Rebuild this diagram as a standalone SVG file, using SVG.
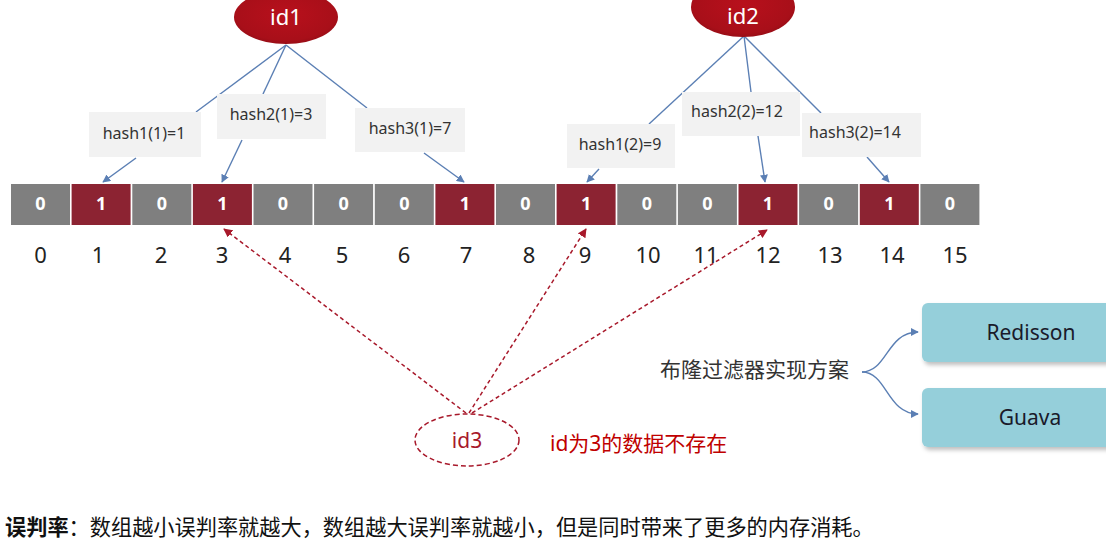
<svg xmlns="http://www.w3.org/2000/svg" width="1106" height="546" viewBox="0 0 1106 546">
<style>
.cell0{fill:#7f7f7f}
.cell1{fill:#8c2332}
.bit{font-family:"Noto Sans","Liberation Sans",sans-serif;font-size:18px;font-weight:bold;fill:#fff;text-anchor:middle}
.idx{font-family:"Noto Sans","Liberation Sans",sans-serif;font-size:22px;fill:#222;text-anchor:middle}
.lbox{fill:#f2f2f2}
.ltxt{font-family:"Noto Sans","Liberation Sans",sans-serif;font-size:16px;fill:#333;text-anchor:middle}
.idtxt{font-family:"Noto Sans","Liberation Sans",sans-serif;font-size:22px;fill:#fff;text-anchor:middle}
.blue{stroke:#5b7fb4;stroke-width:1.4;fill:none}
.reddash{stroke:#a8192b;stroke-width:1.5;fill:none;stroke-dasharray:4 3}
.cn{font-family:"Noto Sans","Noto Sans CJK SC",sans-serif}
.tbox{fill:#95cfda}
.ttxt{font-family:"Noto Sans","Liberation Sans",sans-serif;font-size:21px;fill:#1a1a2a;text-anchor:middle}
</style>
<defs>
<radialGradient id="redg" cx="50%" cy="45%" r="60%">
<stop offset="0%" stop-color="#b8101c"/>
<stop offset="80%" stop-color="#a80f19"/>
<stop offset="100%" stop-color="#8e0c14"/>
</radialGradient>
<marker id="ab" viewBox="0 0 10 10" refX="9" refY="5" markerWidth="8" markerHeight="8" orient="auto" markerUnits="userSpaceOnUse">
<path d="M0,0 L10,5 L0,10 z" fill="#5b7fb4"/>
</marker>
<marker id="ar" viewBox="0 0 10 10" refX="9" refY="5" markerWidth="9" markerHeight="9" orient="auto" markerUnits="userSpaceOnUse">
<path d="M0,0 L10,5 L0,10 z" fill="#a8192b"/>
</marker>
<filter id="sh" x="-10%" y="-10%" width="130%" height="140%">
<feDropShadow dx="2" dy="3" stdDeviation="2" flood-color="#000" flood-opacity="0.25"/>
</filter>
</defs>
<rect width="1106" height="546" fill="#fff"/>

<g id="connectors">
<path class="blue" d="M286,45 L196,112"/>
<path class="blue" d="M286,45 L263,94"/>
<path class="blue" d="M286,45 L367,108"/>
<path class="blue" d="M744,36 L649,124"/>
<path class="blue" d="M744,36 L751,92"/>
<path class="blue" d="M744,36 L821,113"/>
<path class="blue" d="M136,158 L103,182" marker-end="url(#ab)"/>
<path class="blue" d="M242,140 L222,182" marker-end="url(#ab)"/>
<path class="blue" d="M424,153 L464,182" marker-end="url(#ab)"/>
<path class="blue" d="M599,169 L587,182" marker-end="url(#ab)"/>
<path class="blue" d="M758,136 L765,182" marker-end="url(#ab)"/>
<path class="blue" d="M867,157 L889,182" marker-end="url(#ab)"/>
<path class="reddash" d="M466,413 L224,229" marker-end="url(#ar)"/>
<path class="reddash" d="M469,413 L586,229" marker-end="url(#ar)"/>
<path class="reddash" d="M472,413 L767,230" marker-end="url(#ar)"/>
<path class="blue" d="M862,372 C887,372 887,332 918,332" marker-end="url(#ab)"/>
<path class="blue" d="M862,372 C887,372 887,414 918,414" marker-end="url(#ab)"/>
</g>

<g id="id1">
<ellipse cx="286" cy="17" rx="52" ry="27" fill="url(#redg)"/>
<text class="idtxt" x="286" y="25">id1</text>
</g>
<g id="id2">
<ellipse cx="743" cy="7" rx="52" ry="30" fill="url(#redg)"/>
<text class="idtxt" x="743" y="24" font-size="21">id2</text>
</g>

<g id="hash1-1"><rect class="lbox" x="89" y="112" width="112" height="45"/><text class="ltxt" x="144" y="139">hash1(1)=1</text></g>
<g id="hash2-1"><rect class="lbox" x="217" y="94" width="109" height="45"/><text class="ltxt" x="271" y="120">hash2(1)=3</text></g>
<g id="hash3-1"><rect class="lbox" x="355" y="108" width="110" height="44"/><text class="ltxt" x="410" y="134">hash3(1)=7</text></g>
<g id="hash1-2"><rect class="lbox" x="567" y="124" width="108" height="44"/><text class="ltxt" x="620" y="150">hash1(2)=9</text></g>
<g id="hash2-2"><rect class="lbox" x="682" y="92" width="118" height="44"/><text class="ltxt" x="737" y="117">hash2(2)=12</text></g>
<g id="hash3-2"><rect class="lbox" x="802" y="113" width="119" height="44"/><text class="ltxt" x="855" y="138">hash3(2)=14</text></g>

<g id="bitarray">
<rect class="cell0" x="11" y="184" width="59" height="41"/><text class="bit" x="40.5" y="210">0</text>
<rect class="cell1" x="71.6" y="184" width="59" height="41"/><text class="bit" x="101.1" y="210">1</text>
<rect class="cell0" x="132.3" y="184" width="59" height="41"/><text class="bit" x="161.8" y="210">0</text>
<rect class="cell1" x="192.9" y="184" width="59" height="41"/><text class="bit" x="222.4" y="210">1</text>
<rect class="cell0" x="253.5" y="184" width="59" height="41"/><text class="bit" x="283" y="210">0</text>
<rect class="cell0" x="314.1" y="184" width="59" height="41"/><text class="bit" x="343.6" y="210">0</text>
<rect class="cell0" x="374.8" y="184" width="59" height="41"/><text class="bit" x="404.3" y="210">0</text>
<rect class="cell1" x="435.4" y="184" width="59" height="41"/><text class="bit" x="464.9" y="210">1</text>
<rect class="cell0" x="496" y="184" width="59" height="41"/><text class="bit" x="525.5" y="210">0</text>
<rect class="cell1" x="556.6" y="184" width="59" height="41"/><text class="bit" x="586.1" y="210">1</text>
<rect class="cell0" x="617.3" y="184" width="59" height="41"/><text class="bit" x="646.8" y="210">0</text>
<rect class="cell0" x="677.9" y="184" width="59" height="41"/><text class="bit" x="707.4" y="210">0</text>
<rect class="cell1" x="738.5" y="184" width="59" height="41"/><text class="bit" x="768" y="210">1</text>
<rect class="cell0" x="799.1" y="184" width="59" height="41"/><text class="bit" x="828.6" y="210">0</text>
<rect class="cell1" x="859.8" y="184" width="59" height="41"/><text class="bit" x="889.3" y="210">1</text>
<rect class="cell0" x="920.4" y="184" width="59" height="41"/><text class="bit" x="949.9" y="210">0</text>
</g>

<g id="indices">
<text class="idx" x="40.5" y="263">0</text>
<text class="idx" x="98" y="263">1</text>
<text class="idx" x="161" y="263">2</text>
<text class="idx" x="222" y="263">3</text>
<text class="idx" x="285" y="263">4</text>
<text class="idx" x="342" y="263">5</text>
<text class="idx" x="404" y="263">6</text>
<text class="idx" x="466" y="263">7</text>
<text class="idx" x="529" y="263">8</text>
<text class="idx" x="585" y="263">9</text>
<text class="idx" x="648" y="263">10</text>
<text class="idx" x="706" y="263">11</text>
<text class="idx" x="768" y="263">12</text>
<text class="idx" x="830" y="263">13</text>
<text class="idx" x="892" y="263">14</text>
<text class="idx" x="955" y="263">15</text>
</g>

<g id="id3">
<ellipse cx="467" cy="440" rx="52" ry="26" fill="none" stroke="#a8192b" stroke-width="1.5" stroke-dasharray="5 3"/>
<text x="467" y="448" font-family="Noto Sans, sans-serif" font-size="21" fill="#a8192b" text-anchor="middle">id3</text>
</g>
<g id="note-id3">
<text class="cn" x="550" y="451" font-size="21" fill="#c00000">id为3的数据不存在</text>
</g>

<g id="scheme">
<text class="cn" x="660" y="377" font-size="21" fill="#333">布隆过滤器实现方案</text>
</g>
<g id="redisson">
<rect class="tbox" x="922" y="303" width="200" height="59" rx="6" filter="url(#sh)"/>
<text class="ttxt" x="1031" y="340">Redisson</text>
</g>
<g id="guava">
<rect class="tbox" x="922" y="388" width="200" height="59" rx="6" filter="url(#sh)"/>
<text class="ttxt" x="1030" y="425">Guava</text>
</g>

<g id="footer">
<text class="cn" x="5" y="535" font-size="21.2" fill="#111"><tspan font-weight="bold">误判率</tspan>：数组越小误判率就越大，数组越大误判率就越小，但是同时带来了更多的内存消耗。</text>
</g>
</svg>
